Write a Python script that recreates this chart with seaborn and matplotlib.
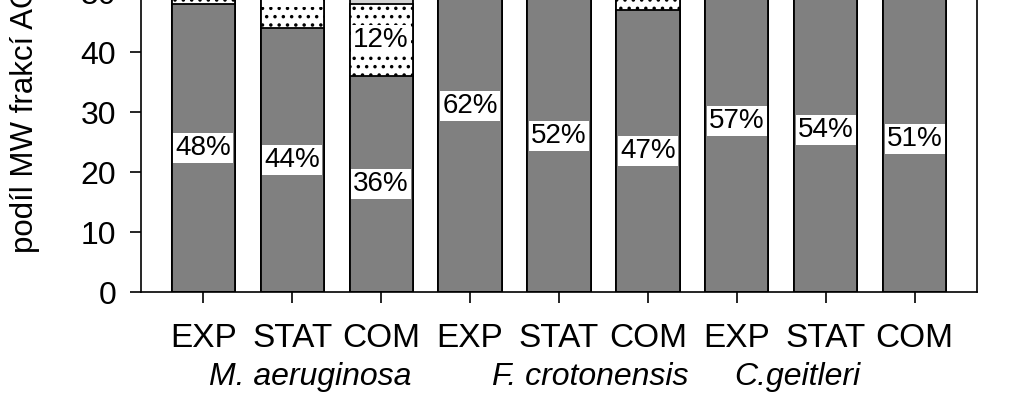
import matplotlib

matplotlib.use("Agg")
import matplotlib.pyplot as plt
import matplotlib.transforms as mtransforms
import numpy as np
import pandas as pd
import seaborn as sns

# --- data ---
species = ["M. aeruginosa", "F. crotonensis", "C.geitleri"]
phases = ["EXP", "STAT", "COM"]
frac_main = [48, 44, 36, 62, 52, 47, 57, 54, 51]   # dark grey, labelled
frac_dot = [8, 12, 12, 10, 14, 6, 12, 14, 10]      # dotted
frac_light = [10, 10, 14, 8, 10, 12, 10, 8, 12]    # light grey
main_labels = [f"{v}%" for v in frac_main]
dot_labels = ["", "12%", "12%", "", "", "", "", "", ""]

sns.set_style("ticks")
plt.rcParams["font.family"] = ["Liberation Sans", "DejaVu Sans"]
plt.rcParams["hatch.linewidth"] = 1.3
for k in ["text.color", "axes.labelcolor", "xtick.color", "ytick.color", "axes.edgecolor"]:
    plt.rcParams[k] = "black"

cats = [f"{s}|{p}" for s in species for p in phases]
df = pd.DataFrame({
    "cat": cats,
    "main": frac_main,
    "dot": frac_dot,
    "light": frac_light,
})
df["cum_dot"] = df["main"] + df["dot"]
df["cum_light"] = df["cum_dot"] + df["light"]

fig = plt.figure(figsize=(10.23, 3.97), dpi=100)
# axes extends above the figure: the reference is a crop of the lower part
ax = fig.add_axes([141 / 1023, 105 / 397, 836 / 1023, 600 / 397])

common = dict(x="cat", order=cats, width=0.71, edgecolor="black",
              linewidth=1.3, ax=ax, errorbar=None)
sns.barplot(data=df, y="cum_light", color="#d3d3d3", saturation=1, **common)
sns.barplot(data=df, y="cum_dot", color="white", saturation=1, hatch="..", **common)
sns.barplot(data=df, y="main", color="#808080", saturation=1, **common)

box = dict(facecolor="white", edgecolor="none", pad=1.5)
for i, row in df.iterrows():
    ax.text(i, row["main"] / 2, main_labels[i], ha="center", va="center",
            fontsize=20, bbox=box)
    if dot_labels[i]:
        ax.text(i, row["main"] + row["dot"] / 2, dot_labels[i], ha="center",
                va="center", fontsize=20, bbox=box)

ax.set_xlim(-0.7, 8.7)
ax.set_ylim(0, 100)
ax.set_yticks(np.arange(0, 101, 10))
ax.set_xticks(range(len(cats)))
ax.set_xticklabels([c.split("|")[1] for c in cats], fontsize=24)
ax.tick_params(axis="x", length=8, width=1.2, pad=14)
ax.tick_params(axis="y", length=8, width=1.2, labelsize=23, pad=10)
ax.set_xlabel("")
ax.set_ylabel("")
for sp in ax.spines.values():
    sp.set_linewidth(1.2)

# species names under each group
trans = mtransforms.blended_transform_factory(ax.transData, fig.transFigure)
for x, name in zip([1.2, 4.35, 6.68], species):
    ax.text(x, 1 - 377 / 397, name, transform=trans, ha="center",
            va="center", fontsize=23, style="italic")

fig.text(25 / 1023, 1 - 253 / 397, "podíl MW frakcí AOM (%)", rotation=90,
         ha="center", va="bottom", fontsize=22.5)

fig.savefig("out.png", dpi=100)
